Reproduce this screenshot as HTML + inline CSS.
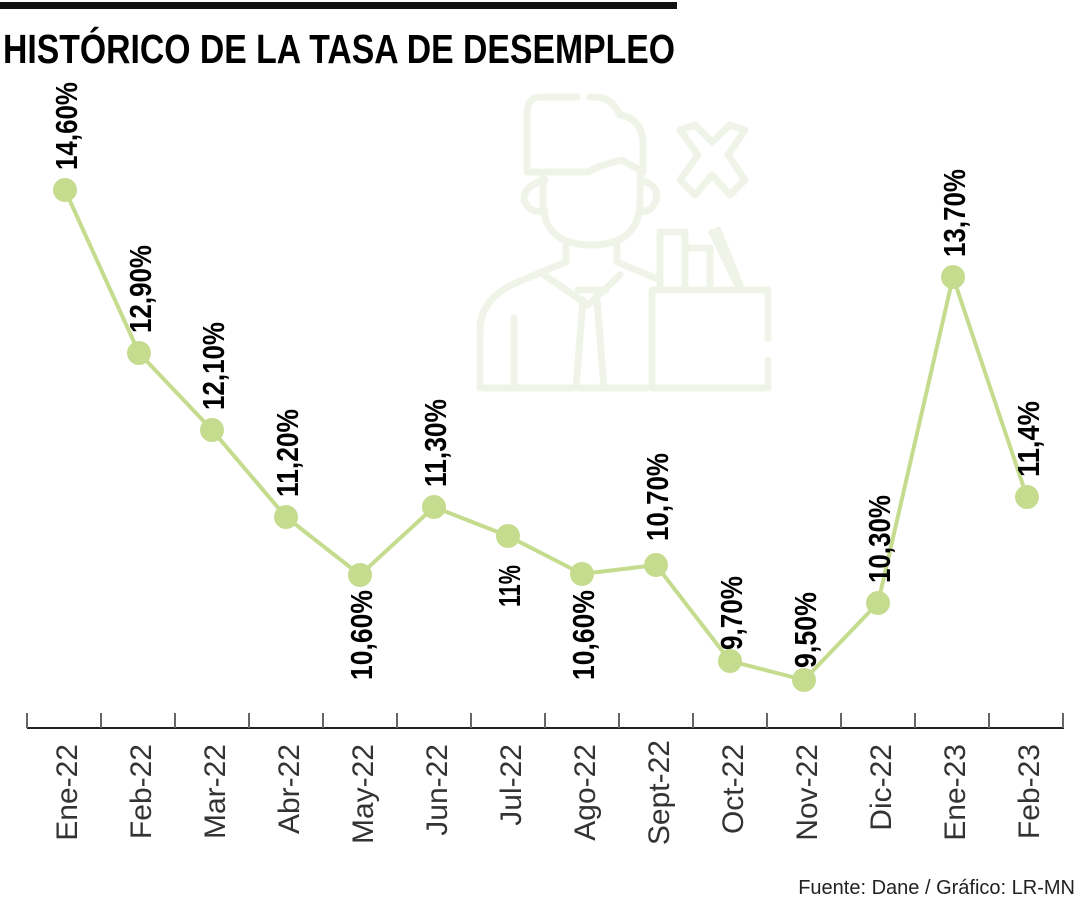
<!DOCTYPE html>
<html><head><meta charset="utf-8"><style>
html,body{margin:0;padding:0;background:#fff;}
svg{display:block;}
</style></head><body>
<svg width="1080" height="900" viewBox="0 0 1080 900" xmlns="http://www.w3.org/2000/svg">
<rect x="0" y="2" width="677" height="7" fill="#111"/>
<text x="3" y="63" font-family="Liberation Sans, sans-serif" font-weight="bold" font-size="41" textLength="672" lengthAdjust="spacingAndGlyphs" fill="#000">HISTÓRICO DE LA TASA DE DESEMPLEO</text>

<g fill="none" stroke="#f0f4e8" stroke-width="7" stroke-linecap="round" stroke-linejoin="round">
<path d="M577 97 H540 Q527 97 527 115 V172 H588 Q600 165 622 160 Q640 170 643 172 V140 Q640 118 620 115 Q612 97 595 97 H590"/>
<path d="M545 180 Q524 185 524 200 Q530 215 545 210"/>
<path d="M640 180 Q660 185 656 200 Q650 215 640 210"/>
<path d="M543 172 V205 Q545 245 592 245 Q637 245 640 205 V172"/>
<path d="M566 245 V262 L518 282 Q480 298 480 330 V388 H646"/>
<path d="M617 245 V262 L655 278"/>
<path d="M540 272 L588 305 L620 275"/>
<path d="M583 300 L576 388 M597 300 L604 388 M578 290 H606"/>
<path d="M514 318 V388"/>
<path d="M652 290 H768 V338 M768 360 V388 H652 V290"/>
<path d="M660 290 V232 H685 V290 M688 248 H710 V290 M712 232 L740 290 M718 230 L742 290"/>
<path d="M680 130 L695 125 L712 142 L730 125 L745 130 L728 155 L745 180 L730 195 L712 175 L695 195 L680 180 L698 155 Z"/>
</g>

<g stroke="#222" stroke-width="2">
<line x1="27" y1="728" x2="1064" y2="728"/>
</g>
<g stroke="#666" stroke-width="2">
<line x1="27" y1="713" x2="27" y2="728"/><line x1="101" y1="713" x2="101" y2="728"/><line x1="175" y1="713" x2="175" y2="728"/><line x1="249" y1="713" x2="249" y2="728"/><line x1="323" y1="713" x2="323" y2="728"/><line x1="397" y1="713" x2="397" y2="728"/><line x1="471" y1="713" x2="471" y2="728"/><line x1="545" y1="713" x2="545" y2="728"/><line x1="619" y1="713" x2="619" y2="728"/><line x1="693" y1="713" x2="693" y2="728"/><line x1="767" y1="713" x2="767" y2="728"/><line x1="841" y1="713" x2="841" y2="728"/><line x1="915" y1="713" x2="915" y2="728"/><line x1="989" y1="713" x2="989" y2="728"/><line x1="1063" y1="713" x2="1063" y2="728"/>
</g>
<g font-family="Liberation Sans, sans-serif" font-size="30" fill="#333" text-anchor="end">
<text transform="translate(77,744) rotate(-90)">Ene-22</text>
<text transform="translate(151,744) rotate(-90)">Feb-22</text>
<text transform="translate(225,744) rotate(-90)">Mar-22</text>
<text transform="translate(299,744) rotate(-90)">Abr-22</text>
<text transform="translate(373,744) rotate(-90)">May-22</text>
<text transform="translate(447,744) rotate(-90)">Jun-22</text>
<text transform="translate(521,744) rotate(-90)">Jul-22</text>
<text transform="translate(595,744) rotate(-90)">Ago-22</text>
<text transform="translate(669,740) rotate(-90)">Sept-22</text>
<text transform="translate(743,744) rotate(-90)">Oct-22</text>
<text transform="translate(817,744) rotate(-90)">Nov-22</text>
<text transform="translate(891,744) rotate(-90)">Dic-22</text>
<text transform="translate(965,744) rotate(-90)">Ene-23</text>
<text transform="translate(1039,744) rotate(-90)">Feb-23</text>
</g>

<polyline fill="none" stroke="#c5dc8f" stroke-width="4" points="65,190 139,353 212,430 286,517 360,575 434,507 508,536 582,574 656,565 730,661 804,680 878,603 953,277 1027,497"/>
<g fill="#c5dc8f">
<circle cx="65" cy="190" r="12"/><circle cx="139" cy="353" r="12"/><circle cx="212" cy="430" r="12"/><circle cx="286" cy="517" r="12"/><circle cx="360" cy="575" r="12"/><circle cx="434" cy="507" r="12"/><circle cx="508" cy="536" r="12"/><circle cx="582" cy="574" r="12"/><circle cx="656" cy="565" r="12"/><circle cx="730" cy="661" r="12"/><circle cx="804" cy="680" r="12"/><circle cx="878" cy="603" r="12"/><circle cx="953" cy="277" r="12"/><circle cx="1027" cy="497" r="12"/>
</g>
<g font-family="Liberation Sans, sans-serif" font-weight="bold" font-size="31" fill="#000" lengthAdjust="spacingAndGlyphs">
<text transform="translate(77,170) rotate(-90)" textLength="88" lengthAdjust="spacingAndGlyphs">14,60%</text>
<text transform="translate(151,333) rotate(-90)" textLength="88" lengthAdjust="spacingAndGlyphs">12,90%</text>
<text transform="translate(224,410) rotate(-90)" textLength="88" lengthAdjust="spacingAndGlyphs">12,10%</text>
<text transform="translate(298,497) rotate(-90)" textLength="88" lengthAdjust="spacingAndGlyphs">11,20%</text>
<text transform="translate(372,590) rotate(-90)" text-anchor="end" textLength="90" lengthAdjust="spacingAndGlyphs">10,60%</text>
<text transform="translate(446,487) rotate(-90)" textLength="88" lengthAdjust="spacingAndGlyphs">11,30%</text>
<text transform="translate(520,565) rotate(-90)" text-anchor="end" textLength="42" lengthAdjust="spacingAndGlyphs">11%</text>
<text transform="translate(594,590) rotate(-90)" text-anchor="end" textLength="90" lengthAdjust="spacingAndGlyphs">10,60%</text>
<text transform="translate(668,541) rotate(-90)" textLength="88" lengthAdjust="spacingAndGlyphs">10,70%</text>
<text transform="translate(742,650) rotate(-90)" textLength="74" lengthAdjust="spacingAndGlyphs">9,70%</text>
<text transform="translate(816,668) rotate(-90)" textLength="76" lengthAdjust="spacingAndGlyphs">9,50%</text>
<text transform="translate(890,583) rotate(-90)" textLength="88" lengthAdjust="spacingAndGlyphs">10,30%</text>
<text transform="translate(965,257) rotate(-90)" textLength="88" lengthAdjust="spacingAndGlyphs">13,70%</text>
<text transform="translate(1039,477) rotate(-90)" textLength="76" lengthAdjust="spacingAndGlyphs">11,4%</text>
</g>
<text x="1075" y="894" text-anchor="end" font-family="Liberation Sans, sans-serif" font-size="20" fill="#222">Fuente: Dane / Gráfico: LR-MN</text>
</svg>
</body></html>
